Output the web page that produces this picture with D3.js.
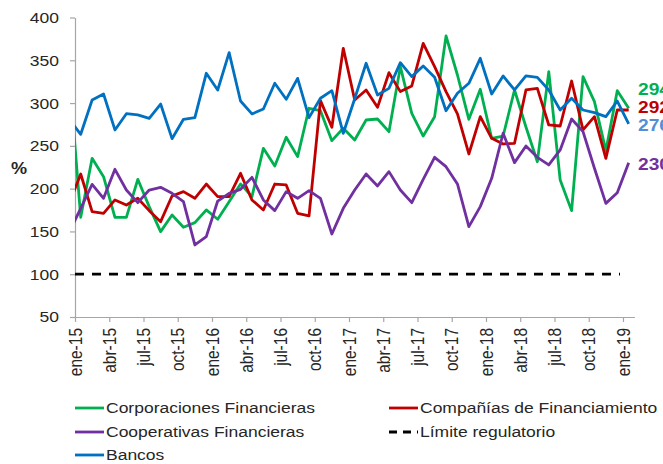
<!DOCTYPE html>
<html>
  <head>
    <meta charset="utf-8">
    <script src="https://cdn.jsdelivr.net/npm/d3@7"></script>
    <style type="text/css">

html, body {
  margin: 0;
  padding: 0;
  background: #fff;
}

svg text {
  font-family: "Liberation Sans", Arial, sans-serif;
  fill: #262626;
}

.axis path, .axis line {
  stroke: #a6a6a6;
  stroke-width: 1.2px;
}

.serie {
  fill: none;
  stroke-width: 2.8px;
  stroke-linejoin: round;
}

    </style>
  </head>
  <body>
    <svg id="chart" width="663" height="464"></svg>
    <script type="text/javascript">

// month index 0 = ene-15; first value is dic-14 (index -1), only its stub shows at the axis
var firstMonth = -1;

var tickLabels = ["ene-15", "abr-15", "jul-15", "oct-15", "ene-16", "abr-16", "jul-16", "oct-16",
  "ene-17", "abr-17", "jul-17", "oct-17", "ene-18", "abr-18", "jul-18", "oct-18", "ene-19"];

var yTicks = [50, 100, 150, 200, 250, 300, 350, 400];

var corporaciones = [333, 166.5, 235.4, 214, 166.5, 166.5, 210.9, 179, 149.8, 169.2, 154.8, 160.3, 175.1,
  164.2, 184.8, 205.5, 190.7, 247.1, 226.5, 260, 237.4, 293.9, 291.1, 256.1, 270.5,
  256.9, 280.2, 281.4, 266.6, 342.6, 288, 261.5, 284.1, 378.4, 332.8, 281, 316.1,
  258.8, 261.5, 315.3, 272, 231.5, 336.7, 210.1, 174.3, 330.9, 301.7, 244.4, 314.5, 294];

var companias = [183, 217.1, 173.1, 171.2, 186.8, 180.9, 188.7, 174.3, 161.4, 191.4, 196.5, 188.7, 205.4,
  190.7, 190.7, 217.9, 186.8, 175.1, 205.4, 204.3, 171.2, 168.1, 302.8, 271.7, 364,
  303.6, 315.3, 295, 335.5, 313.4, 320, 369.8, 342.6, 313.4, 287.3, 240.5, 284.1,
  258.8, 252.2, 253, 315.3, 317.2, 274.4, 273.2, 325.8, 268.6, 284.1, 235.4, 291.9, 291.9];

var cooperativas = [149, 177, 205, 188.7, 222.6, 198.4, 183.6, 198.4, 201.5, 194.5, 184.8, 134.2, 143.9,
  185.5, 194.5, 199.2, 213.2, 186.8, 174.3, 196.5, 188.7, 197.6, 188.7, 147, 177,
  198.4, 217.1, 203.1, 219.9, 198.4, 183.6, 210.9, 236.6, 225.7, 205.5, 155.6, 179,
  212.1, 264.7, 230.4, 249.9, 236.6, 227.7, 245.2, 281.4, 266.6, 223.8, 182.8, 195.3, 230.4];

var bancos = [281, 263.5, 303.6, 310.6, 268.6, 287.6, 286.1, 282.2, 298.9, 258.4, 281, 283, 334.8,
  315.3, 358.9, 302.4, 287.3, 293.1, 323.1, 304.4, 328.9, 283, 305.6, 314.5, 264.7,
  305, 346.5, 309.5, 317.2, 347.2, 330.9, 343.3, 330.1, 291.1, 311.4, 323.1, 352.3,
  310.6, 331.7, 315.3, 331.7, 330.1, 315.3, 291.9, 305.6, 291.9, 288.8, 284.1, 302.4, 275.6];

var limite = 100;

var endLabels = ["294", "292", "276", "230"];

// horizontal stretch of the original picture's text
var SX = 1.13;

var svg = d3.select("#chart");

var x = d3.scaleLinear().domain([0, 49]).range([75, 634.4]);
var y = d3.scaleLinear().domain([50, 400]).range([317, 17.5]);

function px(i) { return x(firstMonth + i + 0.5); }

svg.append("defs").append("clipPath").attr("id", "plot")
  .append("rect").attr("x", 75).attr("y", 0).attr("width", 588).attr("height", 464);

// axes
var yAxis = svg.append("g").attr("class", "axis")
    .attr("transform", "translate(75,0)")
    .call(d3.axisLeft(y).tickValues(yTicks).tickSize(5).tickSizeOuter(0));
yAxis.selectAll("text")
    .attr("x", 0)
    .attr("transform", "translate(-16,0) scale(" + SX + ",1)")
    .style("font-size", "15.5px")
    .style("text-anchor", "end");

var xAxis = svg.append("g").attr("class", "axis")
    .attr("transform", "translate(0,317)")
    .call(d3.axisBottom(x)
      .tickValues(d3.range(0, 49, 3))
      .tickFormat(function(d, i) { return tickLabels[i]; })
      .tickSize(5).tickSizeOuter(0));
xAxis.selectAll("text")
    .attr("x", 0).attr("y", 0).attr("dy", "0.35em")
    .attr("transform", "translate(0,11) scale(" + SX + ",1) rotate(-90)")
    .style("font-size", "15.5px")
    .style("text-anchor", "end");
svg.selectAll(".axis text").style("fill", "#262626");
svg.selectAll(".axis .domain").attr("stroke", "#a6a6a6");

svg.append("text")
    .attr("transform", "translate(11,174) scale(" + SX + ",1)")
    .style("font-size", "16px").style("font-weight", "bold")
    .text("%");

var series = [
  {name: "Corporaciones Financieras", values: corporaciones, color: "#00b050", label: "#00b050"},
  {name: "Compañías de Financiamiento", values: companias, color: "#c00000", label: "#c00000"},
  {name: "Cooperativas Financieras", values: cooperativas, color: "#7030a0", label: "#7030a0"},
  {name: "Límite regulatorio", values: null, color: "#000", dash: "9,8"},
  {name: "Bancos", values: bancos, color: "#0070c0", label: "#558ed5"}
];

var line = d3.line()
    .x(function(d, i) { return px(i); })
    .y(function(d) { return y(d); });

var plot = svg.append("g").attr("clip-path", "url(#plot)");

series.forEach(function(s) {
  if (s.values) {
    plot.append("path").attr("class", "serie")
        .attr("d", line(s.values))
        .attr("stroke", s.color);
  } else {
    plot.append("line")
        .attr("x1", x(0)).attr("x2", x(48) - 3)
        .attr("y1", y(limite)).attr("y2", y(limite))
        .attr("stroke", s.color).attr("stroke-width", 2.8)
        .attr("stroke-dasharray", s.dash);
  }
});

// value labels at the right
var labelSeries = [series[0], series[1], series[4], series[2]];
var labelShift = [-19, -3, 1, 1];
labelSeries.forEach(function(s, k) {
  var last = s.values[s.values.length - 1];
  svg.append("text")
      .attr("transform", "translate(638," + (y(last) + labelShift[k]) + ") scale(" + SX + ",1)")
      .attr("dy", "0.36em")
      .style("font-size", "17px").style("font-weight", "bold")
      .style("fill", s.label)
      .text(endLabels[k]);
});

// legend
var legend = svg.append("g");
series.forEach(function(s, i) {
  var lx = (i % 2 === 0) ? 75 : 389,
      ly = [408, 432, 455][Math.floor(i / 2)];
  var g = legend.append("g").attr("transform", "translate(" + lx + "," + ly + ")");
  g.append("line")
      .attr("x1", 0).attr("x2", 29)
      .attr("stroke", s.color).attr("stroke-width", 2.8)
      .attr("stroke-dasharray", s.dash ? "8,6" : null);
  g.append("text")
      .attr("transform", "translate(31,0) scale(" + SX + ",1)")
      .attr("dy", "0.35em")
      .style("font-size", "15.5px")
      .text(s.name);
});

    </script>
  </body>
</html>
